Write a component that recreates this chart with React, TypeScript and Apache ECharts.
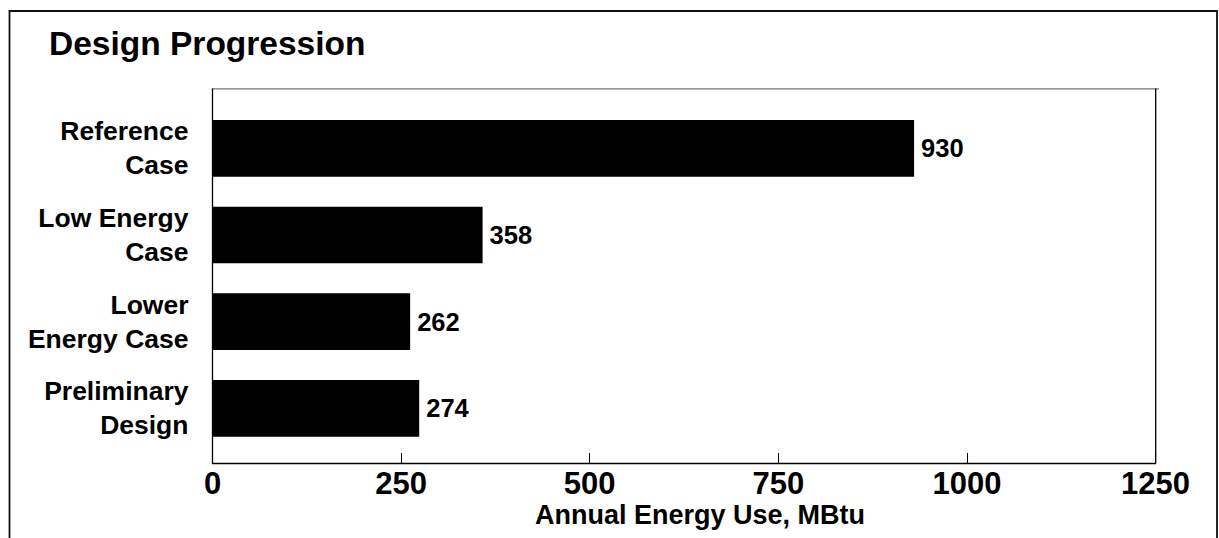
import React, { useEffect, useRef } from "react";
import * as echarts from "echarts";

const categories = ["Reference\nCase", "Low Energy\nCase", "Lower\nEnergy Case", "Preliminary\nDesign"];
const energyUse = [930, 358, 262, 274];
const xTicks = { min: 0, max: 1250, interval: 250 };
const titleText = "Design Progression";
const axisTitle = "Annual Energy Use, MBtu";

const FONT = "'Liberation Sans', Arial, Helvetica, sans-serif";

export default function App() {
  const ref = useRef<HTMLDivElement>(null);
  useEffect(() => {
    if (!ref.current) return;
    const chart = echarts.init(ref.current, null, { renderer: "svg" });
    chart.setOption({
      animation: false,
      backgroundColor: "#ffffff",
      textStyle: { fontFamily: FONT },
      grid: { left: 212.5, right: 63.5, top: 105, bottom: 86.3, containLabel: false },
      xAxis: {
        type: "value",
        min: xTicks.min,
        max: xTicks.max,
        interval: xTicks.interval,
        offset: 11.3,
        axisLine: { show: true, lineStyle: { color: "#000", width: 1.3 } },
        axisTick: { show: true, inside: true, length: 10, lineStyle: { color: "#000", width: 1 } },
        splitLine: { show: false },
        axisLabel: {
          color: "#000",
          fontSize: 31,
          fontWeight: "bold",
          fontFamily: FONT,
          margin: 5,
          lineHeight: 31,
          formatter: (v: number) => String(v),
        },
      },
      yAxis: {
        type: "category",
        inverse: true,
        data: categories,
        axisLine: { show: false },
        axisTick: { show: false },
        axisLabel: {
          color: "#000",
          fontSize: 26.5,
          fontWeight: "bold",
          fontFamily: FONT,
          lineHeight: 34,
          align: "right",
          margin: 24,
        },
      },
      series: [
        {
          type: "bar",
          data: energyUse,
          barCategoryGap: "34.6%",
          itemStyle: { color: "#000" },
          label: {
            show: true,
            position: "right",
            distance: 7,
            color: "#000",
            fontSize: 25.5,
            fontWeight: "bold",
            fontFamily: FONT,
          },
        },
      ],
      graphic: [
        {
          type: "rect",
          shape: { x: 9.5, y: 11, width: 1207.5, height: 600 },
          style: { fill: "none", stroke: "#111", lineWidth: 1.8 },
          silent: true,
        },
        {
          type: "line",
          shape: { x1: 212.5, y1: 88.8, x2: 1159, y2: 88.8 },
          style: { stroke: "#777", lineWidth: 1.3 },
          silent: true,
        },
        {
          type: "line",
          shape: { x1: 212.5, y1: 88.5, x2: 212.5, y2: 463.5 },
          style: { stroke: "#000", lineWidth: 1.3 },
          silent: true,
        },
        {
          type: "line",
          shape: { x1: 1155.7, y1: 88.5, x2: 1155.7, y2: 463.5 },
          style: { stroke: "#000", lineWidth: 1.3 },
          silent: true,
        },
        {
          type: "text",
          left: 49,
          top: 26,
          style: {
            text: titleText,
            fontSize: 33.5,
            fontWeight: "bold",
            fontFamily: FONT,
            fill: "#000",
            lineHeight: 33.5,
          },
          silent: true,
        },
        {
          type: "text",
          x: 700,
          y: 501,
          style: {
            text: axisTitle,
            fontSize: 27,
            fontWeight: "bold",
            fontFamily: FONT,
            fill: "#000",
            align: "center",
            verticalAlign: "top",
            lineHeight: 27,
          },
          silent: true,
        },
      ],
    });
    return () => chart.dispose();
  }, []);
  return (
    <div
      ref={ref}
      style={{ position: "absolute", left: 0, top: 0, width: "1219px", height: "538px" }}
    />
  );
}
